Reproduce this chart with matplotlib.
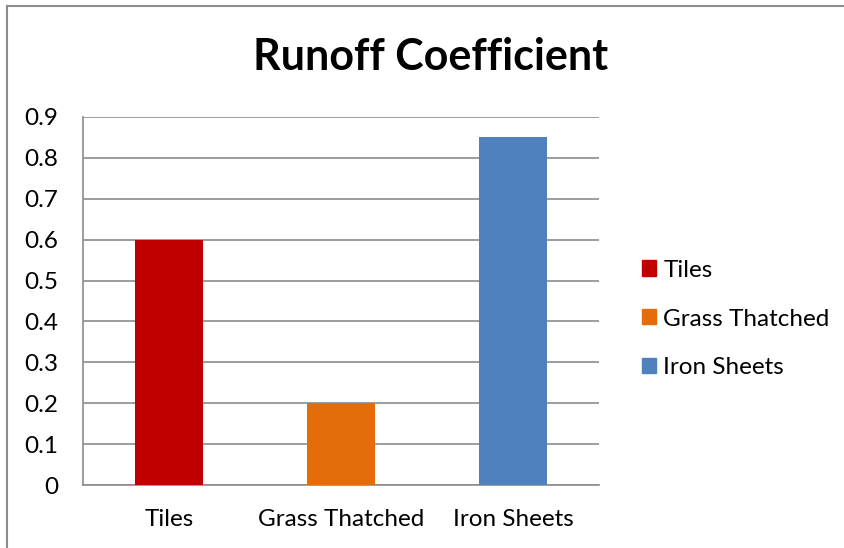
import matplotlib.pyplot as plt
from matplotlib.lines import Line2D
from matplotlib.patches import Patch

plt.rcParams['font.family'] = ['Lato', 'DejaVu Sans']

categories = ['Tiles', 'Grass Thatched', 'Iron Sheets']
values = [0.6, 0.2, 0.85]
colors = ['#C00000', '#E46C0A', '#4F81BD']
yticks = [0, 0.1, 0.2, 0.3, 0.4, 0.5, 0.6, 0.7, 0.8, 0.9]

W, H = 845, 548
fig = plt.figure(figsize=(W / 100, H / 100), dpi=100)
ax = fig.add_axes([83 / W, 1 - 485 / H, (599 - 83) / W, (485 - 117) / H])

x = range(len(categories))
ax.bar(x, values, width=0.4, color=colors, zorder=3)
ax.set_xlim(-0.5, 2.5)
ax.set_ylim(0, 0.9)
ax.set_yticks(yticks)
ax.set_yticklabels(['0' if v == 0 else '%.1f' % v for v in yticks])
ax.set_xticks(list(x))
ax.set_xticklabels(categories)
ax.tick_params(axis='both', length=0, labelsize=17.5, colors='black')
ax.tick_params(axis='x', pad=17)
ax.tick_params(axis='y', pad=18)
ax.grid(axis='y', color='#8c8c8c', linewidth=1.2, zorder=0)
for s in ['top', 'right']:
    ax.spines[s].set_visible(False)
for s in ['left', 'bottom']:
    ax.spines[s].set_color('#8c8c8c')
    ax.spines[s].set_linewidth(1.2)

fig.text(431 / W, 1 - 57 / H, 'Runoff Coefficient', ha='center', va='center',
         fontsize=31, fontweight='bold')

handles = [Patch(color=c, label=n) for c, n in zip(colors, categories)]
fig.legend(handles=handles, loc='center left', bbox_to_anchor=(642 / W, 1 - 319 / H),
           frameon=False, fontsize=17.5, handlelength=0.58, handleheight=0.58,
           handletextpad=0.3, labelspacing=1.15, borderpad=0, borderaxespad=0)

# outer chart border (only left and top are visible in the crop)
fig.add_artist(Line2D([7.5 / W, 7.5 / W], [0, 1 - 5.5 / H], color='#8c8c8c', lw=1.5))
fig.add_artist(Line2D([7.5 / W, 1], [1 - 5.5 / H, 1 - 5.5 / H], color='#8c8c8c', lw=1.5))

fig.savefig('out.png', dpi=100)
